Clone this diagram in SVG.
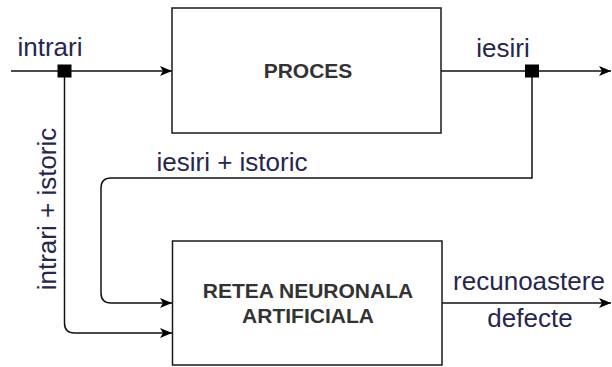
<svg xmlns="http://www.w3.org/2000/svg" width="612" height="367" viewBox="0 0 612 367">
<style>
.box{fill:#fff;stroke:#1a1a1a;stroke-width:1.5}
.bt{font-family:"Liberation Sans",Arial,sans-serif;font-size:21px;font-weight:bold;fill:#333;text-anchor:middle}
.lb{font-family:"Liberation Sans",Arial,sans-serif;font-size:26px;fill:#26264f}
.ln{fill:none;stroke:#111;stroke-width:1.5}
</style>
<defs>
<marker id="ar" viewBox="0 0 12 10" refX="12" refY="5" markerWidth="12" markerHeight="10" markerUnits="userSpaceOnUse" orient="auto">
<path d="M0,0 L12,5 L0,10 L3,5 Z" fill="#000"/>
</marker>
</defs>
<g id="connectors">
<path class="ln" d="M11,71 H172" marker-end="url(#ar)"/>
<path class="ln" d="M441,71 H611" marker-end="url(#ar)"/>
<path class="ln" d="M532,71 V178 H111 Q101,178 101,188 V293 Q101,303 111,303 H172" marker-end="url(#ar)"/>
<path class="ln" d="M64.5,71 V323 Q64.5,333 74.5,333 H172" marker-end="url(#ar)"/>
<path class="ln" d="M442,303 H611" marker-end="url(#ar)"/>
<rect x="57.5" y="64.5" width="14" height="13" fill="#000"/>
<rect x="525" y="64.5" width="14" height="13" fill="#000"/>
</g>
<g id="proces">
<rect class="box" x="172" y="8" width="269" height="125"/>
<text class="bt" x="308" y="78">PROCES</text>
</g>
<g id="retea">
<rect class="box" x="172.5" y="241" width="269.5" height="124"/>
<text class="bt" x="308" y="298">RETEA NEURONALA</text>
<text class="bt" x="308" y="323">ARTIFICIALA</text>
</g>
<g id="labels">
<text class="lb" x="50" y="56" text-anchor="middle">intrari</text>
<text class="lb" x="503" y="57" text-anchor="middle">iesiri</text>
<text class="lb" x="232" y="171" text-anchor="middle">iesiri + istoric</text>
<text class="lb" x="529" y="290" text-anchor="middle">recunoastere</text>
<text class="lb" x="530" y="327" text-anchor="middle">defecte</text>
<text class="lb" transform="translate(56,209) rotate(-90)" text-anchor="middle">intrari + istoric</text>
</g>
</svg>
